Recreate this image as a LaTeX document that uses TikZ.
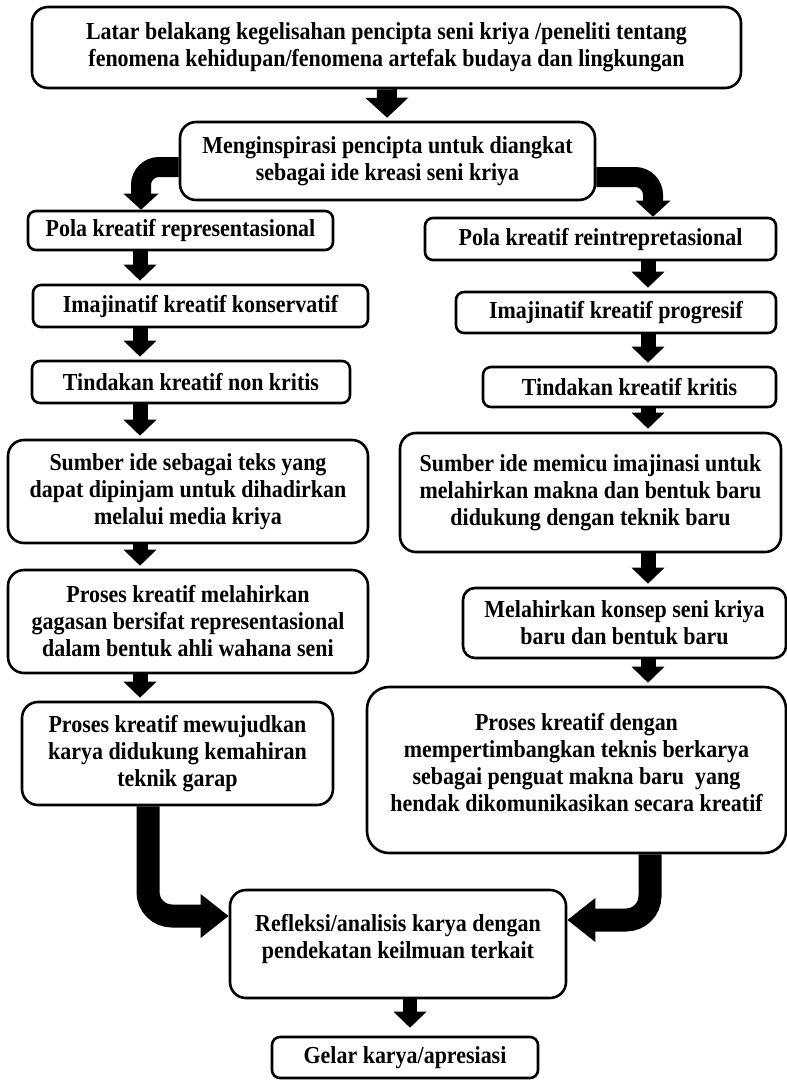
\documentclass[tikz,border=0pt]{standalone}
\usepackage{fontspec}
\setmainfont{Liberation Serif}
\newfontfamily\kotakfont[FakeStretch=0.9]{Liberation Serif}
\usetikzlibrary{arrows.meta}
\begin{document}
\begin{tikzpicture}[x=1pt,y=-1pt,
	box/.style={draw,line width=2.6pt,rounded corners=12pt,align=center,inner sep=0pt,
		font=\kotakfont\bfseries\fontsize{24.4}{27}\selectfont},
	flow/.style={line width=15pt,shorten >=3pt,-{Triangle[width=32pt,length=16pt]}},
	bendflow/.style={line width=20pt,rounded corners=18pt,-{Triangle[width=34pt,length=16pt]}},
	bigflow/.style={line width=23pt,rounded corners=24pt,-{Triangle[width=42pt,length=28pt]}}]
	\useasboundingbox (0,0) rectangle (787,1080);
	\node[box,minimum width=709,minimum height=81,rounded corners=16pt] (latar) at (386.5,47.5)
		{Latar belakang kegelisahan pencipta seni kriya /peneliti tentang\\
		fenomena kehidupan/fenomena artefak budaya dan lingkungan};
	\node[box,minimum width=415,minimum height=78,rounded corners=16pt] (inspirasi) at (387.5,161)
		{Menginspirasi pencipta untuk diangkat\\sebagai ide kreasi seni kriya};
	\node[box,minimum width=305,minimum height=39,rounded corners=8pt] (polarep) at (180.5,230.5)
		{Pola kreatif representasional};
	\node[box,minimum width=351,minimum height=42,rounded corners=8pt] (polareint) at (600.5,239)
		{Pola kreatif reintrepretasional};
	\node[box,minimum width=335,minimum height=42,rounded corners=8pt] (imajkons) at (200.5,306)
		{Imajinatif kreatif konservatif};
	\node[box,minimum width=320,minimum height=41,rounded corners=8pt] (imajprog) at (616,312.5)
		{Imajinatif kreatif progresif};
	\node[box,minimum width=318,minimum height=42,rounded corners=8pt] (tindnon) at (191,382)
		{Tindakan kreatif non kritis};
	\node[box,minimum width=293,minimum height=40,rounded corners=8pt] (tindkrit) at (629.5,387)
		{Tindakan kreatif kritis};
	\node[box,minimum width=360,minimum height=103,rounded corners=16pt] (sumberkiri) at (188,491.5)
		{Sumber ide sebagai teks yang\\dapat dipinjam untuk dihadirkan\\melalui media kriya};
	\node[box,minimum width=381,minimum height=119,rounded corners=16pt] (sumberkanan) at (590.5,492.5)
		{Sumber ide memicu imajinasi untuk\\melahirkan makna dan bentuk baru\\didukung dengan teknik baru};
	\node[box,minimum width=360,minimum height=103,rounded corners=16pt] (prosesgagasan) at (188,621.5)
		{Proses kreatif melahirkan\\gagasan bersifat representasional\\dalam bentuk ahli wahana seni};
	\node[box,minimum width=323,minimum height=70,rounded corners=12pt] (konsep) at (624.5,623)
		{Melahirkan konsep seni kriya\\baru dan bentuk baru};
	\node[box,minimum width=311,minimum height=103,rounded corners=16pt] (prosesgarap) at (177.5,753.5)
		{Proses kreatif mewujudkan\\karya didukung kemahiran\\teknik garap};
	\node[box,minimum width=419,minimum height=166,rounded corners=22pt,text depth=16pt] (prosesteknis) at (576.5,770)
		{Proses kreatif dengan\\mempertimbangkan teknis berkarya\\sebagai penguat makna baru \ yang\\
		hendak dikomunikasikan secara kreatif};
	\node[box,minimum width=336,minimum height=108,rounded corners=16pt,text depth=16pt] (refleksi) at (398,944)
		{Refleksi/analisis karya dengan\\pendekatan keilmuan terkait};
	\node[box,minimum width=266,minimum height=41,rounded corners=8pt] (gelar) at (405,1057.5)
		{Gelar karya/apresiasi};
	\coordinate (kiri) at (140,0);
	\coordinate (kanan) at (648,0);
	\coordinate (tengah) at (410,0);
	\coordinate (belokkiri) at (141,0);
	\coordinate (belokkanan) at (653,0);
	\coordinate (turunkiri) at (148,0);
	\coordinate (turunkanan) at (650,0);
	\draw[flow,line width=20pt,-{Triangle[width=42pt,length=20pt]}] (latar) -- (inspirasi);
	\draw[bendflow] ([yshift=-6pt]inspirasi.west) -| (polarep.north -| belokkiri);
	\draw[bendflow] ([yshift=-16pt]inspirasi.east) -| (polareint.north -| belokkanan);
	\draw[flow] (polarep.south -| kiri) -- (imajkons.north -| kiri);
	\draw[flow] (imajkons.south -| kiri) -- (tindnon.north -| kiri);
	\draw[flow] (tindnon.south -| kiri) -- (sumberkiri.north -| kiri);
	\draw[flow] (sumberkiri.south -| kiri) -- (prosesgagasan.north -| kiri);
	\draw[flow] (prosesgagasan.south -| kiri) -- (prosesgarap.north -| kiri);
	\draw[flow] (polareint.south -| kanan) -- (imajprog.north -| kanan);
	\draw[flow] (imajprog.south -| kanan) -- (tindkrit.north -| kanan);
	\draw[flow] (tindkrit.south -| kanan) -- (sumberkanan.north -| kanan);
	\draw[flow] (sumberkanan.south -| kanan) -- (konsep.north -| kanan);
	\draw[flow] (konsep.south -| kanan) -- (prosesteknis.north -| kanan);
	\draw[bigflow] (prosesgarap.south -| turunkiri) |- ([yshift=28pt]refleksi.west);
	\draw[bigflow] (prosesteknis.south -| turunkanan) |- ([yshift=24pt]refleksi.east);
	\draw[flow,line width=14pt,shorten >=8pt] (refleksi.south -| tengah) -- (gelar.north -| tengah);
\end{tikzpicture}
\end{document}
